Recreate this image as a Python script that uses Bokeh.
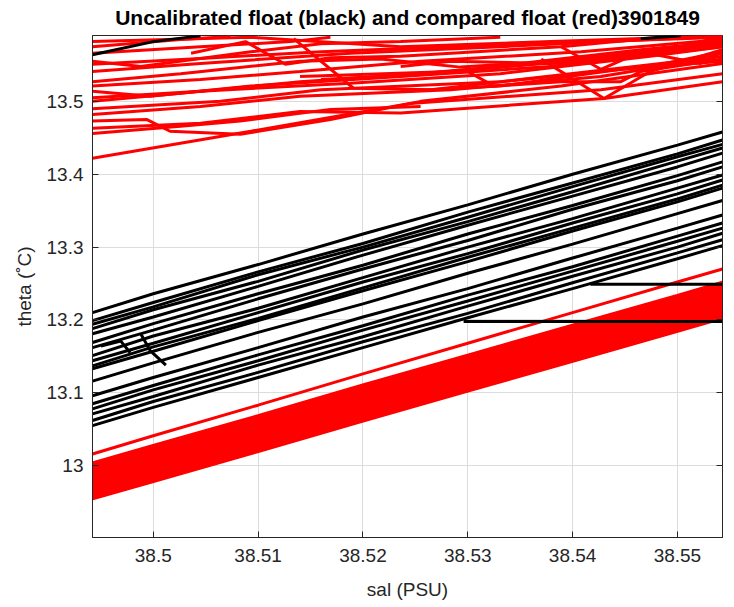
from bokeh.plotting import figure
from bokeh.models import Range1d, FixedTicker, CustomJSTickFormatter, LinearAxis
from bokeh.embed import file_html
from bokeh.resources import INLINE

# ---------------- data ----------------
TITLE = "Uncalibrated float (black) and compared float (red)3901849"
X_LABEL = "sal (PSU)"
Y_LABEL = "theta (\u02daC)"
X_TICKS = [38.50, 38.51, 38.52, 38.53, 38.54, 38.55]
Y_TICKS = [13.0, 13.1, 13.2, 13.3, 13.4, 13.5]
X_LIMITS = [38.4942, 38.5543]
Y_LIMITS = [12.9014, 13.5904]

# salinity stations shared by the long, nearly straight profiles
SAL_GRID = [38.4942, 38.5000, 38.5100, 38.5200, 38.5300, 38.5400, 38.5500, 38.5543]

# uncalibrated float profiles (black), theta at SAL_GRID
BLACK_THETA = [
    [13.210, 13.236, 13.276, 13.318, 13.358, 13.400, 13.440, 13.458],
    [13.199, 13.224, 13.266, 13.305, 13.348, 13.388, 13.428, 13.447],
    [13.194, 13.218, 13.262, 13.300, 13.341, 13.383, 13.424, 13.441],
    [13.188, 13.214, 13.253, 13.296, 13.335, 13.376, 13.418, 13.436],
    [13.181, 13.204, 13.246, 13.289, 13.330, 13.370, 13.410, 13.429],
    [13.169, 13.195, 13.236, 13.275, 13.318, 13.357, 13.398, 13.417],
    [13.162, 13.186, 13.229, 13.270, 13.309, 13.352, 13.391, 13.410],
    [13.151, 13.178, 13.216, 13.258, 13.300, 13.339, 13.381, 13.399],
    [13.144, 13.168, 13.210, 13.252, 13.291, 13.333, 13.373, 13.392],
    [13.137, 13.163, 13.202, 13.244, 13.286, 13.326, 13.366, 13.385],
    [13.133, 13.157, 13.199, 13.240, 13.280, 13.322, 13.362, 13.381],
    [13.116, 13.141, 13.183, 13.222, 13.264, 13.304, 13.346, 13.364],
    [13.096, 13.121, 13.162, 13.204, 13.243, 13.285, 13.326, 13.344],
    [13.085, 13.110, 13.152, 13.192, 13.234, 13.273, 13.315, 13.333],
    [13.078, 13.104, 13.144, 13.186, 13.226, 13.267, 13.308, 13.326],
    [13.071, 13.095, 13.138, 13.177, 13.219, 13.260, 13.300, 13.319],
    [13.062, 13.088, 13.128, 13.170, 13.209, 13.251, 13.292, 13.310],
    [13.055, 13.080, 13.121, 13.162, 13.203, 13.243, 13.284, 13.302],
]

# short / odd black pieces
BLACK_EXTRA_SAL = [
    [38.4942, 38.5000, 38.5045],
    [38.5465, 38.5503],
    [38.5296, 38.5543],
    [38.5417, 38.5543],
    [38.4988, 38.4997, 38.5012],
    [38.4950, 38.4969, 38.4978],
]
BLACK_EXTRA_THETA = [
    [13.564, 13.582, 13.590],
    [13.586, 13.590],
    [13.198, 13.198],
    [13.249, 13.249],
    [13.181, 13.158, 13.138],
    [13.164, 13.171, 13.155],
]

# compared float profiles (red): dense lower band, theta at SAL_GRID
RED_BAND_THETA = [
    [12.955, 12.979, 13.020, 13.062, 13.103, 13.144, 13.185, 13.203],
    [12.959, 12.983, 13.024, 13.066, 13.107, 13.148, 13.189, 13.207],
    [12.963, 12.987, 13.028, 13.070, 13.111, 13.152, 13.193, 13.211],
    [12.967, 12.991, 13.032, 13.074, 13.115, 13.156, 13.197, 13.215],
    [12.971, 12.995, 13.036, 13.078, 13.119, 13.160, 13.201, 13.219],
    [12.975, 12.999, 13.040, 13.082, 13.123, 13.164, 13.205, 13.223],
    [12.979, 13.003, 13.044, 13.086, 13.127, 13.168, 13.209, 13.227],
    [12.983, 13.007, 13.048, 13.090, 13.131, 13.172, 13.213, 13.231],
    [12.987, 13.011, 13.052, 13.094, 13.135, 13.176, 13.217, 13.235],
    [12.991, 13.015, 13.056, 13.098, 13.139, 13.180, 13.221, 13.239],
    [12.995, 13.019, 13.060, 13.102, 13.143, 13.184, 13.225, 13.243],
    [12.999, 13.023, 13.064, 13.106, 13.147, 13.188, 13.229, 13.247],
    [13.003, 13.027, 13.068, 13.110, 13.151, 13.192, 13.233, 13.251],
]
RED_THIN_THETA = [
    [13.016, 13.041, 13.083, 13.126, 13.168, 13.210, 13.252, 13.270],
]

# compared float profiles (red): upper tangled region
RED_TOP_SAL = [
    [38.4942, 38.5093, 38.5245, 38.5427, 38.5543],
    [38.4942, 38.5045, 38.5140, 38.5236, 38.5430, 38.5543],
    [38.4942, 38.4994, 38.5016, 38.5083, 38.5169, 38.5255, 38.5389, 38.5543],
    [38.4942, 38.5045, 38.5140, 38.5284, 38.5427, 38.5543],
    [38.4942, 38.5064, 38.5160, 38.5331, 38.5474, 38.5543],
    [38.4942, 38.4997, 38.5093, 38.5236, 38.5379, 38.5543],
    [38.4942, 38.5045, 38.5140, 38.5255, 38.5408, 38.5543],
    [38.4942, 38.5026, 38.5140, 38.5217, 38.5293, 38.5350, 38.5465, 38.5543],
    [38.4942, 38.5045, 38.5188, 38.5331, 38.5474, 38.5543],
    [38.4942, 38.4988, 38.5093, 38.5160, 38.5236, 38.5331],
    [38.4942, 38.5045, 38.5131, 38.5169],
    [38.4942, 38.5026, 38.5074],
    [38.5036, 38.5088, 38.5126, 38.5169, 38.5236, 38.5389, 38.5484],
    [38.5134, 38.5191, 38.5265, 38.5350, 38.5503, 38.5543],
    [38.5300, 38.5325, 38.5389, 38.5446, 38.5465, 38.5543],
    [38.5370, 38.5430, 38.5474, 38.5543],
    [38.5236, 38.5284, 38.5389, 38.5465, 38.5543],
    [38.4942, 38.5026, 38.5140, 38.5255, 38.5427, 38.5543],
    [38.4942, 38.5093, 38.5236, 38.5379, 38.5543],
    [38.5140, 38.5284, 38.5389, 38.5543],
    [38.5236, 38.5331, 38.5446, 38.5543],
    [38.4942, 38.5045, 38.5188, 38.5331, 38.5474, 38.5543],
    [38.4942, 38.5045, 38.5160, 38.5284, 38.5427, 38.5543],
    [38.5389, 38.5427, 38.5465, 38.5522, 38.5543],
    [38.4942, 38.5026, 38.5083, 38.5169, 38.5255],
    [38.5160, 38.5236, 38.5331, 38.5427, 38.5543],
]
RED_TOP_THETA = [
    [13.422, 13.459, 13.497, 13.516, 13.538],
    [13.463, 13.470, 13.486, 13.484, 13.504, 13.527],
    [13.473, 13.475, 13.459, 13.455, 13.475, 13.500, 13.521, 13.552],
    [13.482, 13.493, 13.507, 13.516, 13.534, 13.562],
    [13.490, 13.500, 13.516, 13.527, 13.548, 13.568],
    [13.514, 13.507, 13.521, 13.534, 13.548, 13.575],
    [13.521, 13.530, 13.541, 13.555, 13.568, 13.585],
    [13.527, 13.538, 13.555, 13.558, 13.547, 13.552, 13.571, 13.582],
    [13.541, 13.552, 13.566, 13.575, 13.585, 13.589],
    [13.555, 13.548, 13.568, 13.579, 13.582, 13.588],
    [13.566, 13.575, 13.582, 13.588],
    [13.575, 13.585, 13.589],
    [13.566, 13.582, 13.551, 13.560, 13.562, 13.575, 13.588],
    [13.586, 13.518, 13.516, 13.530, 13.555, 13.566],
    [13.541, 13.521, 13.527, 13.527, 13.541, 13.558],
    [13.558, 13.504, 13.541, 13.571],
    [13.548, 13.555, 13.552, 13.562, 13.589],
    [13.500, 13.511, 13.527, 13.538, 13.558, 13.579],
    [13.582, 13.588, 13.575, 13.582, 13.590],
    [13.534, 13.541, 13.555, 13.582],
    [13.514, 13.521, 13.544, 13.555],
    [13.505, 13.514, 13.525, 13.538, 13.562, 13.575],
    [13.551, 13.559, 13.568, 13.575, 13.582, 13.588],
    [13.575, 13.544, 13.568, 13.552, 13.568],
    [13.456, 13.466, 13.473, 13.489, 13.493],
    [13.530, 13.536, 13.548, 13.560, 13.578],
]

# ---------------- figure ----------------
AX_COLOR = "#262626"
FONT = "Liberation Sans"

p = figure(width=734, height=607, output_backend="svg", toolbar_location=None,
           x_range=Range1d(*X_LIMITS), y_range=Range1d(*Y_LIMITS),
           x_axis_location=None, y_axis_location=None,
           min_border_left=92, min_border_right=12, min_border_top=34,
           min_border_bottom=70)

p.title.text = TITLE
p.title.align = "center"
p.title.vertical_align = "top"
p.title.text_font = FONT
p.title.text_font_style = "bold"
p.title.text_font_size = "21px"
p.title.text_color = "#000000"
p.title.standoff = 10

p.outline_line_color = AX_COLOR
p.outline_line_width = 1
p.background_fill_color = "white"
p.border_fill_color = "white"

fmt = CustomJSTickFormatter(code="return Number(tick.toFixed(4)).toString();")


def style_axis(ax, ticks, label, show_labels):
    ax.ticker = FixedTicker(ticks=ticks)
    ax.axis_line_color = AX_COLOR
    ax.major_tick_line_color = AX_COLOR
    ax.major_tick_in = 6
    ax.major_tick_out = 0
    ax.minor_tick_line_color = None
    if show_labels:
        ax.formatter = fmt
        ax.axis_label = label
        ax.axis_label_text_font = FONT
        ax.axis_label_text_font_style = "normal"
        ax.axis_label_text_font_size = "19px"
        ax.axis_label_text_color = AX_COLOR
        ax.major_label_text_font = FONT
        ax.major_label_text_font_size = "19px"
        ax.major_label_text_color = AX_COLOR
        ax.major_label_standoff = 11
        ax.axis_label_standoff = 14
    else:
        ax.major_label_text_font_size = "0px"
        ax.major_label_text_alpha = 0
        ax.major_label_standoff = 0


xb = LinearAxis()
style_axis(xb, X_TICKS, X_LABEL, True)
p.add_layout(xb, "below")
yl = LinearAxis()
style_axis(yl, Y_TICKS, Y_LABEL, True)
yl.major_label_standoff = 9
yl.axis_label_standoff = 9
p.add_layout(yl, "left")
yr = LinearAxis()
style_axis(yr, Y_TICKS, None, False)
p.add_layout(yr, "right")

p.xgrid.ticker = FixedTicker(ticks=X_TICKS)
p.ygrid.ticker = FixedTicker(ticks=Y_TICKS)
p.grid.grid_line_color = "#dcdcdc"
p.grid.grid_line_width = 1

LW = 3.0
p.multi_line(xs=[SAL_GRID] * len(RED_BAND_THETA), ys=RED_BAND_THETA,
             line_color="#ff0000", line_width=4.0)
p.multi_line(xs=[SAL_GRID] * len(RED_THIN_THETA), ys=RED_THIN_THETA,
             line_color="#ff0000", line_width=LW)
p.multi_line(xs=RED_TOP_SAL, ys=RED_TOP_THETA, line_color="#ff0000", line_width=LW)
p.multi_line(xs=[SAL_GRID] * len(BLACK_THETA), ys=BLACK_THETA,
             line_color="#000000", line_width=LW)
p.multi_line(xs=BLACK_EXTRA_SAL, ys=BLACK_EXTRA_THETA, line_color="#000000", line_width=LW)

open("out.html", "w").write(file_html(p, INLINE))
